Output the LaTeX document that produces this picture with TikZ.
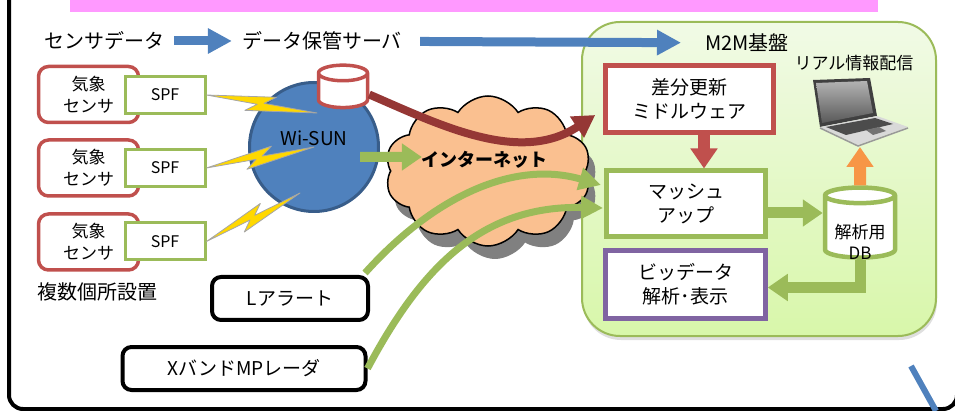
\documentclass[tikz,border=0pt]{standalone}
\usepackage{fontspec}
\setmainfont{Noto Sans CJK JP}
\usetikzlibrary{arrows.meta,calc,shapes.geometric,shapes.symbols,shadows}

\definecolor{accred}{HTML}{C0504D}
\definecolor{darkred}{HTML}{953735}
\definecolor{accgreen}{HTML}{9BBB59}
\definecolor{accblue}{HTML}{4F81BD}
\definecolor{edgeblue}{HTML}{385D8A}
\definecolor{accpurple}{HTML}{8064A2}
\definecolor{accorange}{HTML}{F79646}
\definecolor{cloudfill}{HTML}{FAC090}
\definecolor{bandpink}{HTML}{FF99FF}
\definecolor{boltyellow}{HTML}{FFD800}
\definecolor{platetop}{HTML}{F1FAE6}
\definecolor{platebot}{HTML}{D8F7AA}

\tikzset{
  every node/.style={inner sep=0pt},
  caption/.style={font=\fontsize{#1}{#1}\selectfont},
  sensor/.style={draw=accred, line width=3.5pt, rounded corners=10pt, fill=white,
    minimum width=100pt, minimum height=56pt, align=center,
    font=\fontsize{17}{22}\selectfont},
  spfbox/.style={draw=accgreen, line width=3pt, fill=white, minimum width=80pt,
    minimum height=37pt, font=\fontsize{16}{18}\selectfont},
  srcbox/.style={draw=black, line width=4pt, rounded corners=9pt, fill=white,
    minimum height=43pt, font=\fontsize{19}{22}\selectfont},
  procbox/.style={draw=#1, line width=4.5pt, fill=white, align=center,
    font=\fontsize{19}{24}\selectfont},
  dbcyl/.style={cylinder, shape border rotate=90, draw=#1, fill=white, aspect=0.65,
    inner xsep=12pt, inner ysep=12pt},
  platform/.style={draw=accgreen, line width=2pt, rounded corners=38pt,
    top color=platetop, bottom color=platebot,
    drop shadow={shadow xshift=1pt, shadow yshift=-4pt, opacity=.25}},
  bolt/.style={draw=black!35, line width=0.8pt, fill=boltyellow, line join=round,
    to path={-- ($(\tikztostart)!.62!(\tikztotarget)!9pt!90:(\tikztotarget)$)
      -- ($(\tikztostart)!.52!(\tikztotarget)!1pt!90:(\tikztotarget)$)
      -- (\tikztotarget)
      -- ($(\tikztostart)!.36!(\tikztotarget)!9pt!-90:(\tikztotarget)$)
      -- ($(\tikztostart)!.46!(\tikztotarget)!1pt!-90:(\tikztotarget)$)
      -- cycle}},
  hdrarrow/.style={draw=accblue, line width=9pt, -{Triangle[width=24pt,length=24pt]}},
  fatarrow/.style={draw=#1, line width=11pt, -{Triangle[width=26pt,length=20pt]}},
  flowcurve/.style={draw=#1, line width=7pt, -{Triangle[width=22pt,length=22pt]}},
}

\begin{document}
\begin{tikzpicture}[x=1pt,y=-1pt]
\useasboundingbox (0,0) rectangle (955,411);
% frame and title band
\draw[line width=4pt, rounded corners=14pt] (9,-30) rectangle (957,409);
\fill[bandpink] (70,-5) rectangle (878,12);

% M2M platform
\node[platform, minimum width=354pt, minimum height=314pt] (m2m) at (759,179) {};

% header line
\node[caption=20] (sd) at (104,41) {センサデータ};
\node[caption=20] (srvlbl) at (322,41) {データ保管サーバ};
\node[caption=20] (m2mlbl) at (747,43) {M2M基盤};
\draw[hdrarrow, shorten <=10pt, shorten >=10pt] (sd) -- (srvlbl);
\draw[hdrarrow, shorten <=18pt, shorten >=24pt] (srvlbl) -- (m2mlbl);

% sensors
\node[sensor] (s1) at (88.5,94.5) {気象\\センサ};
\node[spfbox] (spf1) at (165,95) {SPF};
\node[sensor] (s2) at (88.5,168) {気象\\センサ};
\node[spfbox] (spf2) at (165,168) {SPF};
\node[sensor] (s3) at (88.5,242) {気象\\センサ};
\node[spfbox] (spf3) at (165,241.5) {SPF};
\node[caption=20] (many) at (97,292) {複数個所設置};

% Wi-SUN and radio links
\node[circle, draw=edgeblue, line width=3pt, fill=accblue, minimum size=129pt,
  label={[caption=19, yshift=9pt]center:Wi-SUN}] (wisun) at (314,147) {};
\coordinate (w1) at ([shift={(3,-34)}]wisun.center);
\coordinate (w3) at ([shift={(-14,46)}]wisun.center);
\draw[bolt] (spf1.east) to (w1);
\draw[bolt] (spf2.east) to (wisun.center);
\draw[bolt] (spf3.east) to (w3);
\node[dbcyl=accred, line width=3.5pt, minimum width=49pt, minimum height=42pt]
  (srvdb) at (343,94.5) {};

% internet
\node[cloud, cloud puffs=10, cloud puff arc=115, aspect=1.4, draw, line width=1.5pt,
  fill=cloudfill, minimum width=206pt, minimum height=150pt,
  drop shadow={shadow xshift=7pt, shadow yshift=-13pt, opacity=1, fill=black!50},
  label={[font=\fontsize{18}{18}\selectfont\bfseries, shift={(-4pt,11pt)}]center:インターネット}]
  (net) at (488,171) {};
\draw[fatarrow=accgreen, line width=10pt] ([shift={(-20,10)}]wisun.east) -- ([shift={(32,-14)}]net.west);

% alert sources
\node[srcbox, minimum width=156pt] (lal) at (290,298.5) {Lアラート};
\node[srcbox, minimum width=243pt] (xb) at (244,368.5) {XバンドMPレーダ};

% M2M components
\node[procbox=accred, minimum width=168pt, minimum height=67pt] (diff) at (689.5,99) {差分更新\\ミドルウェア};
\node[procbox=accgreen, line width=5pt, minimum width=159pt, minimum height=66pt] (mash) at (686,204) {マッシュ\\アップ};
\node[procbox=accpurple, minimum width=160pt, minimum height=68pt] (big) at (685.5,284.5) {ビッデータ\\解析･表示};
\node[dbcyl=accgreen, line width=4.5pt, minimum width=70pt, minimum height=70pt,
  label={[align=center, font=\fontsize{17}{21}\selectfont, yshift=-11pt]center:解析用\\DB}]
  (db) at (860,230.5) {};

% laptop
\node[caption=17] (rt) at (854,63) {リアル情報配信};
\fill[black!75] (813,80) -- (870,78) -- (877,116) -- (820,127) -- cycle;
\shade[top color=black!30, bottom color=black!65] (816,83) -- (867,81) -- (873,113) -- (822,123) -- cycle;
\fill[black!15] (820,127) -- (877,116) -- (908,127) -- (858,145) -- cycle;
\fill[black!70] (826,127) -- (875,118) -- (893,124) -- (846,135) -- cycle;
\fill[black!55] (866,130) -- (879,127) -- (886,131) -- (873,135) -- cycle;
\draw[black!40, line width=1.5pt] (820,128) -- (858,146) -- (908,128);
\coordinate (pc) at (860,147);

% flows
\draw[flowcurve=darkred, line width=8pt, -{Triangle[width=24pt,length=22pt]}]
  (srvdb.east) .. controls (440,125) and (520,165) .. ([shift={(-8,16)}]diff.west);
\draw[flowcurve=accgreen] ([shift={(-5,-2)}]lal.north east) .. controls (435,195) and (515,160) .. ([shift={(-3,-19)}]mash.west);
\draw[flowcurve=accgreen] (xb.east) .. controls (420,270) and (480,205) .. ([shift={(-1,4)}]mash.west);
\draw[fatarrow=accred, line width=12pt] ([xshift=14.5pt]diff.south) -- ([xshift=14.5pt]diff.south |- mash.north);
\draw[fatarrow=accgreen] ([shift={(0,9)}]mash.east) -- ([shift={(0,9)}]mash.east -| db.west);
\draw[fatarrow=accorange, line width=12pt] (db.north) -- (pc);
\draw[fatarrow=accgreen, line join=miter] (db.south) |- ([shift={(0,3)}]big.east);

% edge of next figure
\draw[accblue, line width=6pt] (911,366) -- (936,411);
\end{tikzpicture}
\end{document}
